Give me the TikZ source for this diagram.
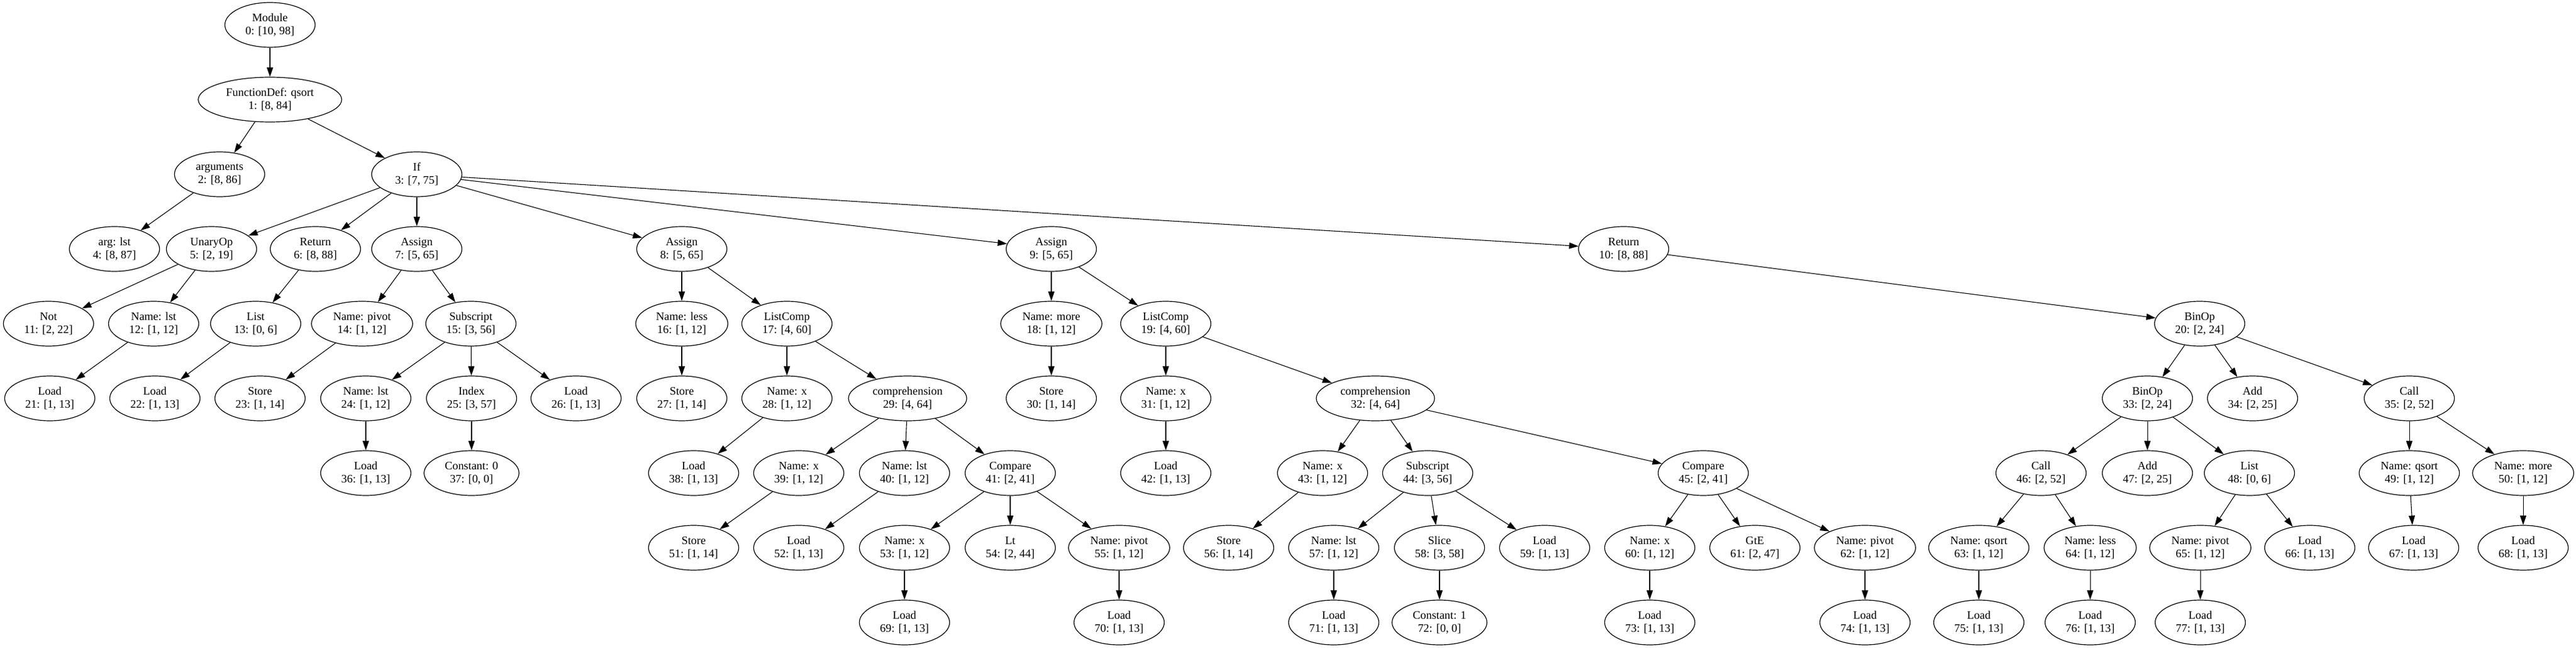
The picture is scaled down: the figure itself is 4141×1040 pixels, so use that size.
\documentclass[tikz,border=0pt]{standalone}
\usepackage{fontspec}
\setmainfont{Liberation Serif}
\usetikzlibrary{shapes.geometric,arrows.meta}

\begin{document}
\begin{tikzpicture}
[x=0.5pt,y=0.5pt,
connection/.style={-{Triangle[length=7.5pt,width=5pt]},line width=0.55pt},
astnode/.style={ellipse,draw=black,fill=white,line width=0.6pt,inner xsep=5.5pt,inner ysep=2pt,minimum width=72.5pt,minimum height=36pt,align=center,font=\fontsize{9.2}{10.4}\selectfont}]

\useasboundingbox (0,0) rectangle (4141,1040);

\def \levelSep {120}
\def \topY {1000}

% Drawing nodes
\foreach \id/\x/\lvl/\lab/\rng in {
	0/434/0/Module/{10, 98}, 1/434/1/FunctionDef: qsort/{8, 84},
	2/353/2/arguments/{8, 86}, 3/670/2/If/{7, 75},
	4/184/3/arg: lst/{8, 87}, 5/340/3/UnaryOp/{2, 19}, 6/507/3/Return/{8, 88}, 7/670/3/Assign/{5, 65},
	8/1096/3/Assign/{5, 65}, 9/1690/3/Assign/{5, 65}, 10/2610/3/Return/{8, 88},
	11/78/4/Not/{2, 22}, 12/247/4/Name: lst/{1, 12}, 13/411/4/List/{0, 6}, 14/582/4/Name: pivot/{1, 12},
	15/757/4/Subscript/{3, 56}, 16/1096/4/Name: less/{1, 12}, 17/1265/4/ListComp/{4, 60},
	18/1690/4/Name: more/{1, 12}, 19/1874/4/ListComp/{4, 60}, 20/3536/4/BinOp/{2, 24},
	21/80/5/Load/{1, 13}, 22/249/5/Load/{1, 13}, 23/418/5/Store/{1, 14}, 24/588/5/Name: lst/{1, 12},
	25/758/5/Index/{3, 57}, 26/926/5/Load/{1, 13}, 27/1096/5/Store/{1, 14}, 28/1265/5/Name: x/{1, 12},
	29/1459/5/comprehension/{4, 64}, 30/1690/5/Store/{1, 14}, 31/1874/5/Name: x/{1, 12},
	32/2211/5/comprehension/{4, 64}, 33/3452/5/BinOp/{2, 24}, 34/3621/5/Add/{2, 25}, 35/3873/5/Call/{2, 52},
	36/588/6/Load/{1, 13}, 37/758/6/Constant: 0/{0, 0}, 38/1115/6/Load/{1, 13}, 39/1284/6/Name: x/{1, 12},
	40/1454/6/Name: lst/{1, 12}, 41/1624/6/Compare/{2, 41}, 42/1874/6/Load/{1, 13}, 43/2126/6/Name: x/{1, 12},
	44/2295/6/Subscript/{3, 56}, 45/2738/6/Compare/{2, 41}, 46/3281/6/Call/{2, 52}, 47/3452/6/Add/{2, 25},
	48/3616/6/List/{0, 6}, 49/3873/6/Name: qsort/{1, 12}, 50/4056/6/Name: more/{1, 12},
	51/1115/7/Store/{1, 14}, 52/1284/7/Load/{1, 13}, 53/1454/7/Name: x/{1, 12}, 54/1624/7/Lt/{2, 44},
	55/1799/7/Name: pivot/{1, 12}, 56/1975/7/Store/{1, 14}, 57/2144/7/Name: lst/{1, 12}, 58/2314/7/Slice/{3, 58},
	59/2483/7/Load/{1, 13}, 60/2652/7/Name: x/{1, 12}, 61/2821/7/GtE/{2, 47}, 62/2998/7/Name: pivot/{1, 12},
	63/3181/7/Name: qsort/{1, 12}, 64/3360/7/Name: less/{1, 12}, 65/3537/7/Name: pivot/{1, 12},
	66/3713/7/Load/{1, 13}, 67/3880/7/Load/{1, 13}, 68/4056/7/Load/{1, 13},
	69/1454/8/Load/{1, 13}, 70/1799/8/Load/{1, 13}, 71/2144/8/Load/{1, 13}, 72/2314/8/Constant: 1/{0, 0},
	73/2652/8/Load/{1, 13}, 74/2998/8/Load/{1, 13}, 75/3181/8/Load/{1, 13}, 76/3360/8/Load/{1, 13},
	77/3537/8/Load/{1, 13}} {
	\pgfmathsetmacro\y{\topY-\levelSep*\lvl}
	\node[astnode] (n\id) at (\x,\y) {\lab\\\id: [\rng]};
}

% Drawing connections
\foreach \a/\b in {0/1, 1/2, 1/3, 2/4, 3/5, 3/6, 3/7, 3/8, 3/9, 3/10, 5/11, 5/12, 6/13, 7/14, 7/15,
	8/16, 8/17, 9/18, 9/19, 10/20, 12/21, 13/22, 14/23, 15/24, 15/25, 15/26, 16/27, 17/28, 17/29,
	18/30, 19/31, 19/32, 20/33, 20/34, 20/35, 24/36, 25/37, 28/38, 29/39, 29/40, 29/41, 31/42,
	32/43, 32/44, 32/45, 33/46, 33/47, 33/48, 35/49, 35/50, 39/51, 40/52, 41/53, 41/54, 41/55,
	43/56, 44/57, 44/58, 44/59, 45/60, 45/61, 45/62, 46/63, 46/64, 48/65, 48/66, 49/67, 50/68,
	53/69, 55/70, 57/71, 58/72, 60/73, 62/74, 63/75, 64/76, 65/77} {
	\draw[connection] (n\a) -- (n\b);
}
\end{tikzpicture}
\end{document}
